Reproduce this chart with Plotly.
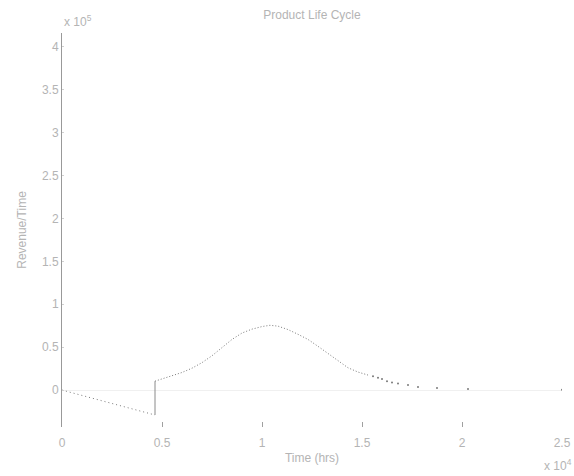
import plotly.graph_objects as go

# Data (time in hrs, revenue/time)
dev_t = [0, 4650]
dev_rev = [0, -29000]

jump_t = [4650, 4650]
jump_rev = [-29000, 10400]

curve_t = [4650, 5000, 5500, 6000, 6500, 7000, 7500, 8000, 8500, 9000, 9500,
           10000, 10400, 10800, 11300, 11800, 12300, 12800, 13300, 13800,
           14300, 14800, 15300]
curve_rev = [10400, 13000, 16000, 20500, 25500, 32000, 40000, 49000, 59000, 66500, 71000,
             74000, 75500, 74500, 70500, 65000, 59000, 51000, 42500, 33500,
             26000, 21000, 17500]

tail_t = [15550, 15800, 16000, 16250, 16500, 16800, 17300, 17800, 18750, 20300, 25000]
tail_rev = [16000, 14500, 12800, 10300, 8800, 7600, 5800, 3500, 2300, 1200, 300]

xticks = [0, 5000, 10000, 15000, 20000, 25000]
xticklabels = ["0", "0.5", "1", "1.5", "2", "2.5"]
yticks = [0, 50000, 100000, 150000, 200000, 250000, 300000, 350000, 400000]
yticklabels = ["0", "0.5", "1", "1.5", "2", "2.5", "3", "3.5", "4"]

dotc = "#7a7a7a"
txt = "#b4b4b4"

fig = go.Figure()
fig.add_trace(go.Scatter(x=dev_t, y=dev_rev, mode="lines",
                         line=dict(color=dotc, width=1, dash="1px,3px")))
fig.add_trace(go.Scatter(x=jump_t, y=jump_rev, mode="lines",
                         line=dict(color="#8a8a8a", width=1)))
fig.add_trace(go.Scatter(x=curve_t, y=curve_rev, mode="lines",
                         line=dict(color=dotc, width=1, dash="1px,2px")))
fig.add_trace(go.Scatter(x=tail_t, y=tail_rev, mode="markers",
                         marker=dict(color=dotc, size=2)))

font = dict(family="Liberation Sans, Arial, sans-serif", size=12, color=txt)

fig.update_layout(
    width=574, height=476,
    margin=dict(l=62, r=12, t=33, b=49, autoexpand=False),
    paper_bgcolor="white", plot_bgcolor="white",
    showlegend=False,
    font=font,
    title=dict(text="Product Life Cycle", x=0.5435, xanchor="center",
               y=0.968, yanchor="middle", font=dict(size=12, color=txt)),
    xaxis=dict(range=[0, 25000], tickvals=xticks, ticktext=xticklabels,
               showgrid=False, zeroline=False, showline=False, automargin=False,
               ticks="inside", ticklen=5, tickcolor="#a0a0a0",
               ticklabelstandoff=7,
               title=dict(text="Time (hrs)", standoff=4, font=dict(size=12, color=txt)),
               tickfont=dict(size=12, color=txt)),
    yaxis=dict(range=[-43000, 416000], tickvals=yticks, ticktext=yticklabels,
               showgrid=False, zeroline=True, zerolinecolor="#f0f0f0", zerolinewidth=1,
               showline=True, linecolor="#999999", linewidth=1, automargin=False,
               ticks="inside", ticklen=2, tickcolor="#d0d0d0",
               title=dict(text="Revenue/Time", standoff=12, font=dict(size=12, color=txt)),
               tickfont=dict(size=12, color=txt)),
)

fig.add_annotation(text="x 10<sup>5</sup>", xref="paper", yref="paper",
                   x=0.0, y=1.0, xanchor="left", yanchor="bottom", yshift=2,
                   showarrow=False, font=dict(size=12, color=txt))
fig.add_annotation(text="x 10<sup>4</sup>", xref="paper", yref="paper",
                   x=1.0, y=0.0, xanchor="right", yanchor="top", yshift=-28, xshift=12,
                   showarrow=False, font=dict(size=12, color=txt))

fig.write_html("out.html")
